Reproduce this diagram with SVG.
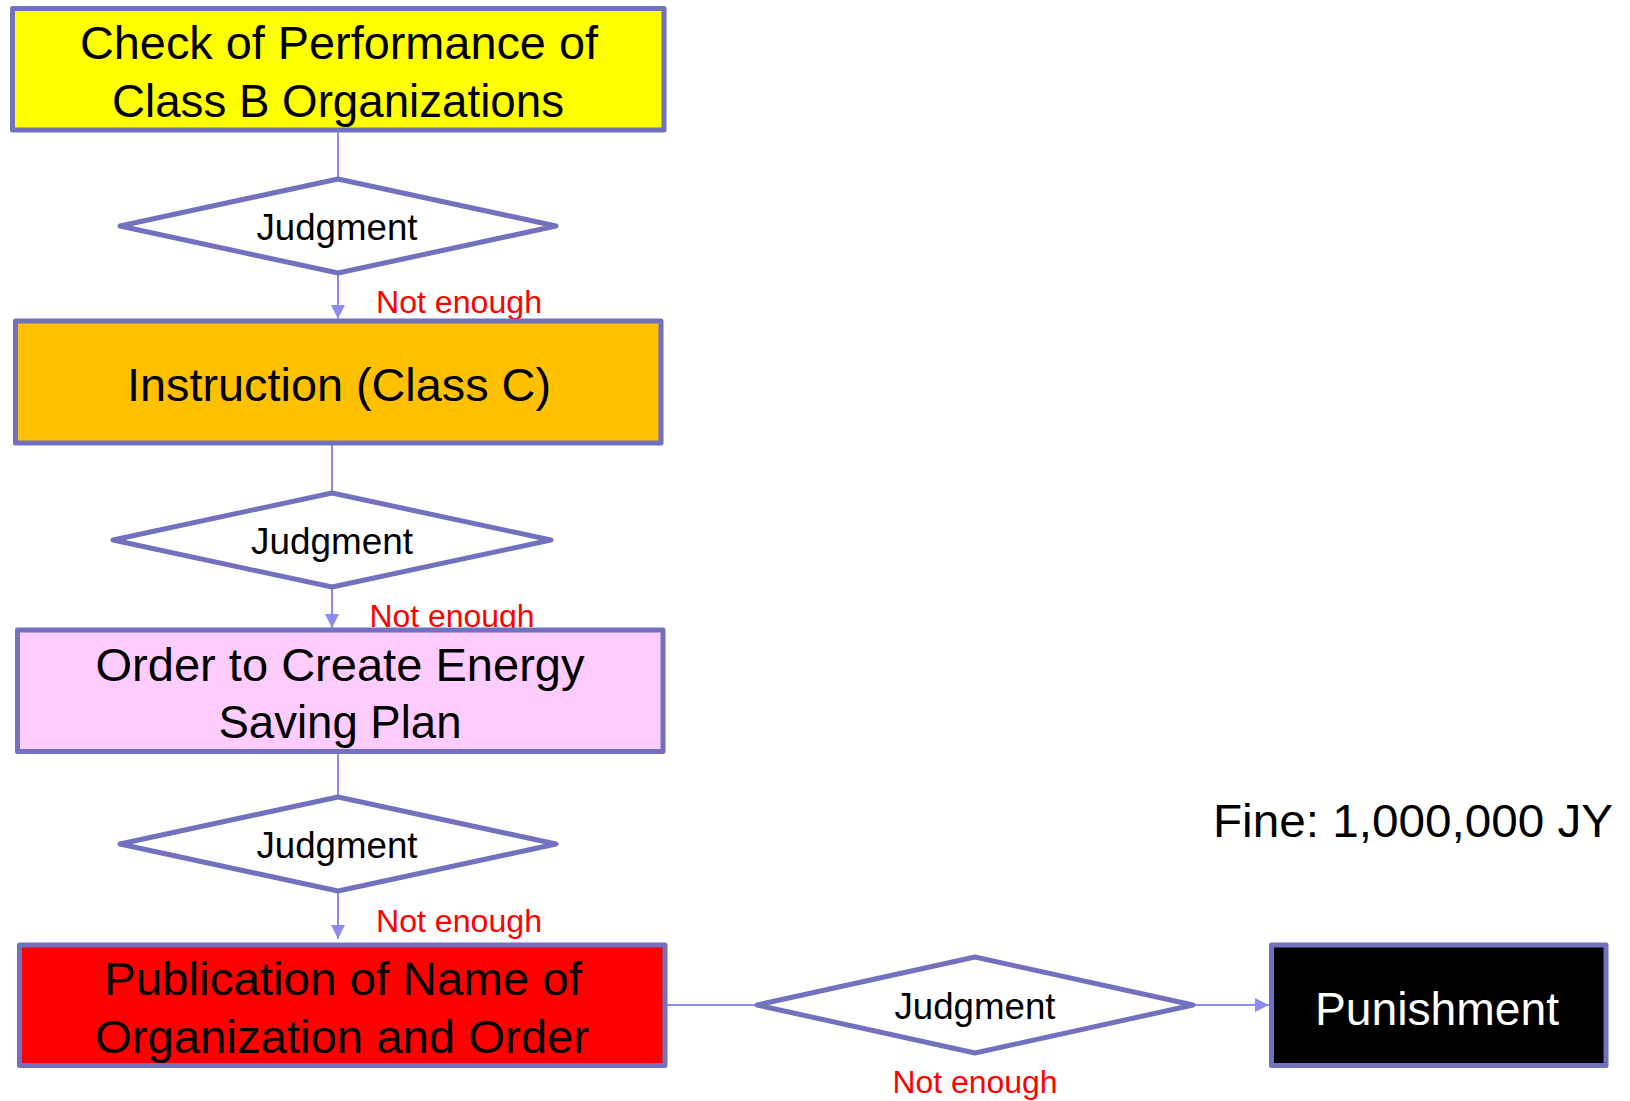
<svg xmlns="http://www.w3.org/2000/svg" width="1630" height="1101" viewBox="0 0 1630 1101">
<defs>
<style>
.box{stroke:#7171BE;stroke-width:5;stroke-linejoin:round}
.dia{fill:#FFFFFF;stroke:#7171BE;stroke-width:5;stroke-linejoin:round}
.con{stroke:#8C8CF0;stroke-width:2;fill:none}
.t{font-family:"Liberation Sans",Arial,sans-serif;font-size:47px;fill:#000;text-anchor:middle}
.j{font-family:"Liberation Sans",Arial,sans-serif;font-size:36px;fill:#000;text-anchor:middle}
.ne{font-family:"Liberation Sans",Arial,sans-serif;font-size:31px;fill:#FF0000;text-anchor:middle}
</style>
<marker id="ah" viewBox="0 0 10 10" refX="10" refY="5" markerWidth="14" markerHeight="14" markerUnits="userSpaceOnUse" orient="auto">
<path d="M0,0 L10,5 L0,10 z" fill="#8C8CF0"/>
</marker>
</defs>
<rect width="1630" height="1101" fill="#FFFFFF"/>
<g id="connectors">
<line class="con" x1="338" y1="130" x2="338" y2="179"/>
<line class="con" x1="338" y1="273" x2="338" y2="319" marker-end="url(#ah)"/>
<line class="con" x1="332" y1="443" x2="332" y2="493"/>
<line class="con" x1="332" y1="587" x2="332" y2="628" marker-end="url(#ah)"/>
<line class="con" x1="338" y1="751" x2="338" y2="797"/>
<line class="con" x1="338" y1="891" x2="338" y2="939" marker-end="url(#ah)"/>
<line class="con" x1="665" y1="1005" x2="757" y2="1005"/>
<line class="con" x1="1193" y1="1005" x2="1269" y2="1005" marker-end="url(#ah)"/>
<text class="ne" x="459" y="313" textLength="166" lengthAdjust="spacingAndGlyphs">Not enough</text>
<text class="ne" x="452" y="627" textLength="165" lengthAdjust="spacingAndGlyphs">Not enough</text>
<text class="ne" x="459" y="932" textLength="166" lengthAdjust="spacingAndGlyphs">Not enough</text>
<text class="ne" x="975" y="1093" textLength="165" lengthAdjust="spacingAndGlyphs">Not enough</text>
</g>
<g id="n1">
<rect class="box" x="12.5" y="8.5" width="651.5" height="121.5" fill="#FFFF00"/>
<text class="t" x="339" y="59" textLength="518" lengthAdjust="spacingAndGlyphs">Check of Performance of</text>
<text class="t" x="338" y="117" textLength="452" lengthAdjust="spacingAndGlyphs">Class B Organizations</text>
</g>
<g id="d1">
<polygon class="dia" points="338,179 556,226 338,273 120,226"/>
<text class="j" x="337" y="240" textLength="161" lengthAdjust="spacingAndGlyphs">Judgment</text>
</g>
<g id="n2">
<rect class="box" x="15.5" y="321" width="645.5" height="122" fill="#FFC000"/>
<text class="t" x="339" y="401" textLength="424" lengthAdjust="spacingAndGlyphs">Instruction (Class C)</text>
</g>
<g id="d2">
<polygon class="dia" points="332,493 551,540 332,587 113,540"/>
<text class="j" x="332" y="554" textLength="162" lengthAdjust="spacingAndGlyphs">Judgment</text>
</g>
<g id="n3">
<rect class="box" x="17.5" y="630" width="645.5" height="121.5" fill="#FFCCFF"/>
<text class="t" x="340" y="681" textLength="489" lengthAdjust="spacingAndGlyphs">Order to Create Energy</text>
<text class="t" x="340" y="738" textLength="243" lengthAdjust="spacingAndGlyphs">Saving Plan</text>
</g>
<g id="d3">
<polygon class="dia" points="338,797 556,844 338,891 120,844"/>
<text class="j" x="337" y="858" textLength="161" lengthAdjust="spacingAndGlyphs">Judgment</text>
</g>
<g id="n4">
<rect class="box" x="19.5" y="945" width="645.5" height="120.5" fill="#FF0000"/>
<text class="t" x="343" y="995" textLength="478" lengthAdjust="spacingAndGlyphs">Publication of Name of</text>
<text class="t" x="342" y="1053" textLength="494" lengthAdjust="spacingAndGlyphs">Organization and Order</text>
</g>
<g id="d4">
<polygon class="dia" points="975,957 1193,1005 975,1053 757,1005"/>
<text class="j" x="975" y="1019" textLength="161" lengthAdjust="spacingAndGlyphs">Judgment</text>
</g>
<g id="n5">
<rect class="box" x="1271.5" y="945" width="334.5" height="120.5" fill="#000000"/>
<text class="t" x="1437" y="1025" fill="#FFFFFF" style="fill:#FFFFFF" textLength="244" lengthAdjust="spacingAndGlyphs">Punishment</text>
</g>
<g id="fine">
<text x="1413" y="837" font-family="Liberation Sans, Arial, sans-serif" font-size="46" fill="#000" text-anchor="middle" textLength="400" lengthAdjust="spacingAndGlyphs">Fine: 1,000,000 JY</text>
</g>
</svg>
